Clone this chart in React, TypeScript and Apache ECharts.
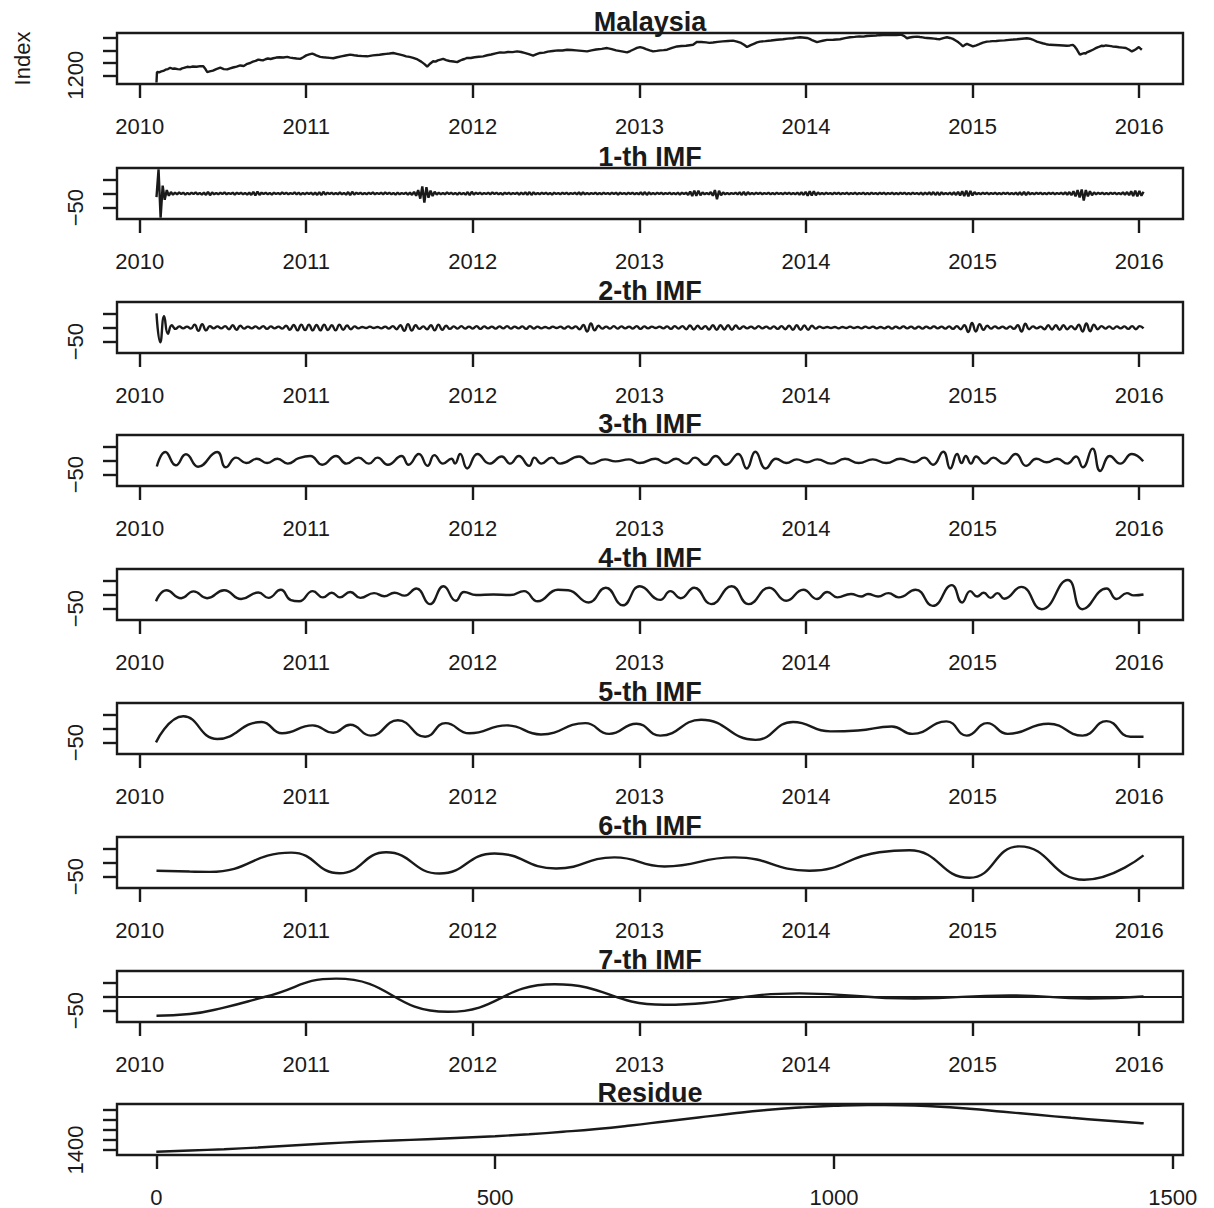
import React, { useEffect, useRef } from "react";
import * as echarts from "echarts";

// ---------- data ----------
const titles = ["Malaysia", "1-th IMF", "2-th IMF", "3-th IMF", "4-th IMF", "5-th IMF", "6-th IMF", "7-th IMF", "Residue"];
const yearTicks = [2010, 2011, 2012, 2013, 2014, 2015, 2016];
const indexTicks = [0, 500, 1000, 1500];
const indexTickLabels = [0, 500, 1000, 1500];
const malaysiaTicks = [1200, 1400, 1600, 1800];
const malaysiaTickLabels = [1200];
const imfTicks = [-50, 0, 50];
const imfTickLabels = [-50];
const residueTicks = [1400, 1500, 1600, 1700, 1800];
const residueTickLabels = [1400];

// first and last observation dates (decimal years) of the daily series
const SERIES_START = 2010.101;
const SERIES_END = 2016.026;

// Malaysia index [year, value]
const malaysiaPoints: [number, number][] = [
  [2010.101, 1085], [2010.104, 1252], [2010.117, 1248], [2010.13, 1262], [2010.142, 1270], [2010.155, 1290],
  [2010.17, 1300], [2010.184, 1322], [2010.197, 1305], [2010.21, 1310], [2010.228, 1300], [2010.244, 1295],
  [2010.255, 1312], [2010.265, 1318], [2010.276, 1328], [2010.286, 1337], [2010.303, 1332], [2010.32, 1342],
  [2010.342, 1338], [2010.364, 1347], [2010.382, 1345], [2010.395, 1300], [2010.406, 1252], [2010.42, 1262],
  [2010.44, 1275], [2010.46, 1300], [2010.484, 1322], [2010.505, 1300], [2010.526, 1295], [2010.543, 1312],
  [2010.56, 1325], [2010.582, 1340], [2010.604, 1358], [2010.625, 1350], [2010.646, 1385], [2010.663, 1398],
  [2010.68, 1420], [2010.696, 1432], [2010.712, 1453], [2010.726, 1446], [2010.74, 1440], [2010.755, 1458],
  [2010.77, 1470], [2010.786, 1462], [2010.802, 1474], [2010.82, 1485], [2010.84, 1490], [2010.862, 1486],
  [2010.886, 1496], [2010.903, 1485], [2010.92, 1478], [2010.942, 1470], [2010.964, 1464], [2010.982, 1490],
  [2011.0, 1520], [2011.018, 1535], [2011.036, 1548], [2011.048, 1535], [2011.06, 1520], [2011.072, 1508],
  [2011.084, 1496], [2011.102, 1490], [2011.12, 1485], [2011.14, 1480], [2011.162, 1474], [2011.186, 1490],
  [2011.21, 1505], [2011.236, 1518], [2011.264, 1532], [2011.288, 1522], [2011.31, 1515], [2011.338, 1508],
  [2011.366, 1505], [2011.4, 1520], [2011.44, 1530], [2011.46, 1538], [2011.48, 1545], [2011.5, 1550],
  [2011.522, 1559], [2011.544, 1545], [2011.564, 1532], [2011.582, 1520], [2011.6, 1505], [2011.62, 1495],
  [2011.642, 1480], [2011.668, 1455], [2011.69, 1420], [2011.71, 1380], [2011.726, 1340], [2011.745, 1390],
  [2011.762, 1426], [2011.776, 1420], [2011.79, 1440], [2011.806, 1452], [2011.822, 1464], [2011.84, 1445],
  [2011.86, 1430], [2011.884, 1422], [2011.906, 1411], [2011.92, 1432], [2011.935, 1450], [2011.95, 1462],
  [2011.966, 1480], [2011.988, 1478], [2012.01, 1490], [2012.036, 1498], [2012.062, 1505], [2012.086, 1522],
  [2012.11, 1535], [2012.137, 1552], [2012.164, 1568], [2012.188, 1565], [2012.21, 1575], [2012.238, 1572],
  [2012.266, 1584], [2012.29, 1575], [2012.31, 1560], [2012.336, 1540], [2012.362, 1516], [2012.383, 1540],
  [2012.404, 1559], [2012.428, 1565], [2012.45, 1580], [2012.48, 1590], [2012.51, 1600], [2012.538, 1598],
  [2012.566, 1611], [2012.594, 1606], [2012.62, 1600], [2012.654, 1592], [2012.686, 1584], [2012.712, 1600],
  [2012.74, 1615], [2012.774, 1625], [2012.806, 1638], [2012.834, 1620], [2012.86, 1600], [2012.894, 1585],
  [2012.926, 1568], [2012.945, 1590], [2012.965, 1615], [2012.985, 1640], [2013.004, 1654], [2013.022, 1640],
  [2013.04, 1620], [2013.062, 1600], [2013.082, 1584], [2013.104, 1592], [2013.125, 1600], [2013.145, 1605],
  [2013.166, 1611], [2013.196, 1640], [2013.226, 1664], [2013.252, 1670], [2013.28, 1675], [2013.302, 1684],
  [2013.322, 1690], [2013.346, 1738], [2013.372, 1735], [2013.4, 1730], [2013.42, 1722], [2013.442, 1727],
  [2013.47, 1738], [2013.5, 1745], [2013.532, 1752], [2013.562, 1758], [2013.586, 1742], [2013.61, 1720],
  [2013.628, 1690], [2013.646, 1654], [2013.668, 1685], [2013.69, 1710], [2013.706, 1728], [2013.724, 1742],
  [2013.756, 1750], [2013.79, 1760], [2013.826, 1772], [2013.862, 1780], [2013.89, 1790], [2013.92, 1795],
  [2013.942, 1805], [2013.964, 1812], [2014.006, 1800], [2014.022, 1785], [2014.04, 1760], [2014.066, 1733],
  [2014.084, 1745], [2014.1, 1755], [2014.126, 1769], [2014.164, 1772], [2014.204, 1780], [2014.234, 1798],
  [2014.264, 1812], [2014.292, 1818], [2014.32, 1825], [2014.344, 1822], [2014.366, 1832], [2014.392, 1836],
  [2014.42, 1840], [2014.44, 1845], [2014.462, 1848], [2014.49, 1846], [2014.52, 1850], [2014.542, 1848],
  [2014.564, 1853], [2014.578, 1845], [2014.59, 1830], [2014.606, 1796], [2014.622, 1808], [2014.64, 1815],
  [2014.666, 1821], [2014.684, 1815], [2014.7, 1810], [2014.714, 1802], [2014.726, 1800], [2014.748, 1795],
  [2014.77, 1790], [2014.787, 1784], [2014.804, 1780], [2014.824, 1798], [2014.846, 1812], [2014.864, 1800],
  [2014.882, 1785], [2014.898, 1760], [2014.915, 1730], [2014.928, 1700], [2014.942, 1664], [2014.954, 1690],
  [2014.966, 1706], [2014.984, 1685], [2015.002, 1664], [2015.022, 1682], [2015.04, 1700], [2015.062, 1725],
  [2015.086, 1742], [2015.104, 1745], [2015.12, 1750], [2015.142, 1752], [2015.164, 1758], [2015.192, 1762],
  [2015.22, 1770], [2015.244, 1775], [2015.266, 1780], [2015.296, 1788], [2015.326, 1796], [2015.344, 1788],
  [2015.36, 1775], [2015.372, 1760], [2015.386, 1742], [2015.402, 1730], [2015.42, 1715], [2015.442, 1700],
  [2015.464, 1690], [2015.492, 1686], [2015.52, 1682], [2015.544, 1678], [2015.566, 1674], [2015.584, 1680],
  [2015.602, 1690], [2015.614, 1660], [2015.625, 1620], [2015.634, 1575], [2015.644, 1532], [2015.656, 1545],
  [2015.67, 1555], [2015.678, 1548], [2015.686, 1568], [2015.704, 1590], [2015.722, 1611], [2015.736, 1632],
  [2015.75, 1650], [2015.762, 1662], [2015.773, 1674], [2015.786, 1670], [2015.8, 1680], [2015.82, 1672],
  [2015.84, 1664], [2015.86, 1658], [2015.88, 1650], [2015.9, 1645], [2015.92, 1638], [2015.94, 1610],
  [2015.956, 1584], [2015.968, 1600], [2015.98, 1620], [2015.99, 1640], [2015.998, 1654], [2016.008, 1630],
  [2016.016, 1611],
];

// 1-th IMF, evenly spaced observations from SERIES_START to SERIES_END
const imf1Values = [
  -13, 85, -85, 28, -22, 12, -8, 5, -4, 3, -3, 4, -2, 3, -4, 2, -3, 3, -2, 4,
  -3, 2, -4, 3, -5, 6, -6, 4, -3, 2, -3, 3, -2, 4, -3, 2, -2, 3, -4, 3,
  -2, 3, -3, 2, -4, 3, -5, 6, -7, 7, -5, 3, -2, 3, -3, 2, -4, 3, -2, 2,
  -3, 4, -2, 3, -3, 2, -2, 4, -3, 3, -4, 2, -3, 3, -2, 3, -4, 3, -5, 5,
  -6, 6, -4, 3, -2, 3, -3, 2, -3, 4, -3, 2, -4, 5, -6, 6, -4, 3, -2, 3,
  -3, 2, -3, 3, -2, 4, -3, 2, -2, 3, -3, 4, -2, 3, -3, 2, -4, 3, -3, 2,
  -2, 3, -4, 3, -5, 6, -8, 12, -18, 25, -32, 22, -15, 10, -9, 6, -4, 3, -3, 2,
  -3, 4, -2, 3, -3, 2, -4, 3, -3, 2, -4, 5, -6, 6, -4, 3, -2, 3, -3, 2,
  -2, 3, -3, 4, -2, 3, -3, 2, -4, 3, -2, 3, -3, 2, -2, 3, -4, 3, -3, 4,
  -4, 5, -5, 4, -3, 2, -3, 3, -2, 3, -3, 2, -4, 3, -2, 2, -3, 3, -2, 3,
  -3, 2, -2, 3, -3, 4, -4, 4, -3, 2, -3, 2, -2, 3, -3, 2, -3, 3, -2, 2,
  -3, 3, -2, 3, -4, 3, -2, 2, -3, 3, -2, 3, -3, 2, -3, 4, -4, 5, -5, 4,
  -3, 2, -3, 3, -2, 3, -3, 2, -2, 3, -3, 2, -3, 3, -4, 3, -2, 3, -5, 7,
  -9, 10, -8, 10, -6, 4, -3, 2, -3, 5, -8, 12, -20, 10, -6, 4, -3, 2, -3, 2,
  -2, 3, -3, 4, -5, 6, -6, 5, -3, 2, -3, 3, -2, 3, -3, 2, -2, 3, -3, 2,
  -3, 3, -2, 2, -3, 3, -2, 3, -3, 2, -3, 3, -4, 4, -5, 6, -8, 8, -7, 8,
  -6, 4, -3, 2, -3, 3, -2, 2, -3, 3, -2, 3, -3, 2, -2, 3, -3, 2, -2, 3,
  -3, 2, -2, 3, -3, 2, -3, 3, -2, 2, -3, 3, -2, 3, -3, 2, -2, 3, -3, 2,
  -3, 3, -2, 3, -3, 2, -3, 3, -2, 2, -3, 3, -4, 3, -3, 4, -4, 5, -5, 4,
  -5, 4, -3, 2, -3, 3, -4, 4, -5, 6, -7, 8, -9, 10, -10, 9, -7, 5, -3, 2,
  -3, 3, -2, 3, -3, 2, -2, 3, -3, 2, -3, 3, -2, 3, -3, 2, -3, 3, -4, 4,
  -5, 6, -6, 5, -3, 2, -3, 3, -2, 3, -3, 2, -3, 3, -2, 3, -3, 2, -2, 3,
  -3, 4, -4, 5, -6, 8, -10, 12, -14, 14, -25, 12, -10, 8, -6, 4, -3, 3, -2, 3,
  -3, 2, -3, 3, -2, 3, -3, 2, -3, 4, -4, 5, -6, 8, -9, 10, -10, 9, -8, 6,
];

// 2-th IMF, evenly spaced observations from SERIES_START to SERIES_END
const imf2Values = [
  50, -52, 40, -22, 8, -5, 4, -3, 3, -4, 10, -12, 12, -10, 5, -3, 4, -3, 5, -6,
  8, -8, 6, -4, 3, -3, 4, -4, 5, -5, 4, -3, 3, -4, 6, -8, 9, -10, 10, -9,
  10, -10, 9, -10, 10, -9, 8, -10, 10, -8, 7, -6, 4, -3, 2, -2, 3, -2, 2, -3,
  3, -4, 5, -6, 8, -12, 12, -11, 8, -5, 4, -6, 8, -10, 10, -8, 6, -5, 4, -4,
  5, -4, 3, -4, 5, -5, 4, -3, 3, -4, 4, -3, 5, -4, 3, -3, 4, -5, 5, -4,
  3, -3, 2, -3, 3, -2, 3, -4, 4, -3, 4, -6, 9, -14, 14, -10, 6, -4, 3, -4,
  5, -4, 4, -3, 3, -4, 5, -5, 4, -3, 3, -2, 3, -3, 4, -5, 5, -4, 5, -6,
  7, -7, 6, -5, 5, -7, 8, -8, 8, -7, 8, -8, 7, -5, 4, -3, 3, -4, 5, -3,
  3, -4, 4, -5, 5, -6, 6, -8, 8, -8, 7, -8, 6, -4, 3, -2, 2, -2, 2, -3,
  2, -2, 3, -2, 2, -3, 3, -2, 3, -3, 2, -3, 3, -4, 3, -3, 4, -3, 3, -4,
  3, -4, 3, -3, 4, -3, 3, -4, 4, -5, 5, -6, 8, -16, 16, -14, 12, -8, 6, -4,
  4, -3, 3, -4, 4, -5, 8, -14, 13, -6, 4, -3, 3, -6, 8, -7, 8, -8, 8, -6,
  5, -6, 10, -14, 14, -13, 10, -6, 5, -4, 4, -5, 4, -3, 4, -5, 5, -6, 5, -3,
];

// 3-th IMF turning points [year, value]
const imf3Points: [number, number][] = [
  [2010.103, -21], [2010.154, 30], [2010.217, -17], [2010.278, 22], [2010.351, -22], [2010.465, 30],
  [2010.517, -24], [2010.579, 10], [2010.64, -9], [2010.703, 6], [2010.765, -9], [2010.827, 6],
  [2010.889, -11], [2010.955, 8], [2011.024, 16], [2011.096, -15], [2011.179, 16], [2011.241, -11],
  [2011.314, 10], [2011.376, -11], [2011.428, 10], [2011.49, -15], [2011.572, 16], [2011.614, -15],
  [2011.676, 23], [2011.728, -19], [2011.769, 19], [2011.821, -11], [2011.872, 6], [2011.893, -11],
  [2011.924, 23], [2011.966, -28], [2012.028, 23], [2012.1, -11], [2012.173, 14], [2012.224, -11],
  [2012.276, 16], [2012.338, -19], [2012.37, 10], [2012.411, -11], [2012.473, 10], [2012.524, -11],
  [2012.638, 14], [2012.711, -11], [2012.794, 4], [2012.856, -3], [2012.938, 4], [2013.001, -9],
  [2013.096, 6], [2013.158, -9], [2013.22, 6], [2013.282, -11], [2013.333, 10], [2013.396, -15],
  [2013.458, 16], [2013.52, -15], [2013.593, 23], [2013.644, -28], [2013.696, 31], [2013.758, -28],
  [2013.82, 6], [2013.882, -9], [2013.944, 4], [2014.006, -6], [2014.068, 4], [2014.151, -11],
  [2014.234, 6], [2014.317, -9], [2014.4, 4], [2014.482, -9], [2014.566, 6], [2014.649, -6],
  [2014.71, 10], [2014.762, -15], [2014.824, 31], [2014.866, -28], [2014.907, 23], [2014.934, -9],
  [2014.959, 16], [2014.99, -11], [2015.021, 14], [2015.073, -11], [2015.124, 10], [2015.187, -11],
  [2015.259, 23], [2015.321, -19], [2015.383, 6], [2015.445, -6], [2015.508, 6], [2015.569, -11],
  [2015.621, 14], [2015.662, -24], [2015.72, 42], [2015.766, -37], [2015.824, 16], [2015.886, -11],
  [2015.956, 23], [2016.024, -3],
];

// 4-th IMF turning points [year, value]
const imf4Points: [number, number][] = [
  [2010.098, -24], [2010.16, 15], [2010.249, -13], [2010.323, 11], [2010.405, -13], [2010.507, 15],
  [2010.609, -16], [2010.712, 7], [2010.773, -12], [2010.847, 17], [2010.908, -20], [2010.957, -24],
  [2011.039, 12], [2011.1, -10], [2011.153, 6], [2011.202, -10], [2011.264, 9], [2011.325, -12],
  [2011.407, 5], [2011.468, -6], [2011.53, 6], [2011.591, -4], [2011.661, 21], [2011.742, -34],
  [2011.824, 29], [2011.898, -22], [2011.947, 9], [2012.02, -2], [2012.123, 0], [2012.225, -2],
  [2012.307, 12], [2012.389, -24], [2012.511, 17], [2012.573, 15], [2012.695, -28], [2012.798, 24],
  [2012.9, -38], [2013.002, 29], [2013.125, -19], [2013.186, 12], [2013.247, -13], [2013.329, 24],
  [2013.431, -34], [2013.554, 29], [2013.656, -34], [2013.779, 24], [2013.881, -22], [2013.984, 17],
  [2014.066, -16], [2014.127, 9], [2014.188, -10], [2014.27, 2], [2014.331, -7], [2014.372, 2],
  [2014.433, -7], [2014.495, 5], [2014.556, -10], [2014.658, 17], [2014.761, -40], [2014.875, 33],
  [2014.937, -28], [2014.986, 12], [2015.027, -7], [2015.067, 6], [2015.108, -12], [2015.149, 5],
  [2015.19, -15], [2015.292, 27], [2015.415, -52], [2015.571, 51], [2015.66, -52], [2015.804, 21],
  [2015.865, -16], [2015.926, 5], [2015.967, -3], [2016.026, 0],
];

// 5-th IMF turning points [year, value]
const imf5Points: [number, number][] = [
  [2010.098, -49], [2010.262, 43], [2010.466, -37], [2010.732, 23], [2010.855, -17], [2011.039, 11],
  [2011.162, -15], [2011.264, 13], [2011.387, -25], [2011.55, 29], [2011.714, -29], [2011.836, 19],
  [2011.98, -17], [2012.204, 11], [2012.409, -21], [2012.675, 19], [2012.818, -19], [2012.982, 17],
  [2013.125, -25], [2013.37, 31], [2013.697, -40], [2013.922, 23], [2014.147, -10], [2014.311, -7],
  [2014.515, 7], [2014.638, -19], [2014.843, 25], [2014.965, -25], [2015.088, 19], [2015.211, -19],
  [2015.456, 17], [2015.66, -25], [2015.804, 26], [2015.947, -29], [2016.026, -29],
];

// 6-th IMF turning points [year, value]
const imf6Points: [number, number][] = [
  [2010.101, -29], [2010.3, -32], [2010.42, -33], [2010.91, 35], [2011.2, -38], [2011.48, 36],
  [2011.8, -39], [2012.13, 32], [2012.5, -21], [2012.85, 18], [2013.15, -14], [2013.57, 18],
  [2014.02, -29], [2014.44, 36], [2014.62, 43], [2014.98, -54], [2015.28, 57], [2015.67, -61],
  [2016.026, 25],
];

// 7-th IMF turning points [year, value]
const imf7Points: [number, number][] = [
  [2010.101, -68], [2010.3, -62], [2010.5, -40], [2010.76, 0], [2011.18, 63], [2011.85, -54],
  [2012.49, 43], [2013.15, -29], [2013.96, 11], [2014.65, -7], [2015.22, 4], [2015.7, -7],
  [2016.026, 0],
];

// Residue [observation index, value]
const residuePoints: [number, number][] = [
  [0, 1383], [50, 1395], [100, 1408], [150, 1425], [200, 1445], [250, 1465], [300, 1482], [350, 1495],
  [400, 1508], [450, 1522], [500, 1538], [550, 1558], [600, 1582], [650, 1610], [700, 1645], [750, 1685],
  [800, 1725], [850, 1765], [900, 1800], [950, 1825], [1000, 1842], [1050, 1850], [1100, 1848],
  [1150, 1835], [1200, 1812], [1250, 1782], [1300, 1752], [1350, 1722], [1400, 1695], [1450, 1670],
  [1457, 1667],
];

// place evenly spaced daily observations on the date axis
function onDates(values: number[]): [number, number][] {
  const step = (SERIES_END - SERIES_START) / (values.length - 1);
  return values.map((v, i) => [SERIES_START + i * step, v]);
}

// ---------- layout / style ----------
const FONT = '"Liberation Sans", Arial, Helvetica, sans-serif';
const INK = "#1a1a1a";
const PANEL_TOPS = [33, 168, 302, 435, 569, 703, 837, 971, 1104];
const PANEL_H = 51;
const GRID_LEFT = 117;
const GRID_W = 1066;
const LINE_W = 2.4;

const fmtTick = (v: number) => String(v).replace("-", "\u2212");

export default function App() {
  const ref = useRef<HTMLDivElement>(null);

  useEffect(() => {
    if (!ref.current) return;
    const chart = echarts.init(ref.current, undefined, { renderer: "svg" });

    const panels = [
      { data: malaysiaPoints, smooth: false, min: 1060, max: 1880, ticks: malaysiaTicks, labels: malaysiaTickLabels },
      { data: onDates(imf1Values), smooth: false, min: -90, max: 90, ticks: imfTicks, labels: imfTickLabels },
      { data: onDates(imf2Values), smooth: 0.5, min: -90, max: 90, ticks: imfTicks, labels: imfTickLabels },
      { data: imf3Points, smooth: 0.5, min: -90, max: 90, ticks: imfTicks, labels: imfTickLabels },
      { data: imf4Points, smooth: 0.5, min: -90, max: 90, ticks: imfTicks, labels: imfTickLabels },
      { data: imf5Points, smooth: 0.5, min: -90, max: 90, ticks: imfTicks, labels: imfTickLabels },
      { data: imf6Points, smooth: 0.5, min: -90, max: 90, ticks: imfTicks, labels: imfTickLabels },
      { data: imf7Points, smooth: 0.5, min: -90, max: 90, ticks: imfTicks, labels: imfTickLabels },
      { data: residuePoints, smooth: 0.5, min: 1350, max: 1860, ticks: residueTicks, labels: residueTickLabels },
    ];

    const tickStyle = { show: true, length: 14, inside: false, lineStyle: { color: INK, width: LINE_W } };
    const labelStyle = { fontSize: 22, color: INK, fontFamily: FONT };

    const option: any = {
      animation: false,
      backgroundColor: "#ffffff",
      title: titles.map((t, k) => ({
        text: t,
        left: 650,
        top: PANEL_TOPS[k] - 25,
        textAlign: "center",
        padding: 0,
        textStyle: { fontSize: 27, fontWeight: "bold", color: INK, fontFamily: FONT },
      })),
      grid: PANEL_TOPS.map((top) => ({
        left: GRID_LEFT,
        top,
        width: GRID_W,
        height: PANEL_H,
        show: true,
        borderColor: INK,
        borderWidth: LINE_W,
        backgroundColor: "transparent",
        containLabel: false,
        outerBoundsMode: "none",
      })),
      xAxis: panels.map((p, k) => {
        const isResidue = k === 8;
        return {
          type: "value",
          gridIndex: k,
          position: "bottom",
          min: isResidue ? -58 : 2009.864,
          max: isResidue ? 1515 : 2016.263,
          axisLine: { show: false, onZero: false },
          splitLine: { show: false },
          axisTick: { ...tickStyle, customValues: isResidue ? indexTicks : yearTicks },
          axisLabel: {
            ...labelStyle,
            margin: 31,
            customValues: isResidue ? indexTickLabels : yearTicks,
            formatter: fmtTick,
          },
        };
      }),
      yAxis: panels.map((p, k) => ({
        type: "value",
        gridIndex: k,
        position: "left",
        min: p.min,
        max: p.max,
        axisLine: { show: false, onZero: false },
        splitLine: { show: false },
        axisTick: { ...tickStyle, customValues: p.ticks },
        axisLabel: {
          ...labelStyle,
          rotate: 90,
          margin: 31,
          customValues: p.labels,
          formatter: fmtTick,
        },
        ...(k === 0
          ? {
              name: "Index",
              nameLocation: "middle",
              nameRotate: 90,
              nameGap: 84,
              nameTextStyle: { fontSize: 22, color: INK, fontFamily: FONT },
            }
          : {}),
      })),
      series: panels.map((p, k) => ({
        type: "line",
        xAxisIndex: k,
        yAxisIndex: k,
        data: p.data,
        smooth: p.smooth,
        symbol: "none",
        showSymbol: false,
        silent: true,
        lineStyle: { color: INK, width: LINE_W },
        ...(k === 7
          ? {
              markLine: {
                silent: true,
                symbol: "none",
                label: { show: false },
                lineStyle: { color: INK, width: 1.8, type: "solid" },
                data: [{ yAxis: 0 }],
              },
            }
          : {}),
      })),
    };

    chart.setOption(option);
    return () => chart.dispose();
  }, []);

  return (
    <div
      ref={ref}
      style={{ position: "absolute", left: 0, top: 0, width: 1214, height: 1208, background: "#fff" }}
    />
  );
}
